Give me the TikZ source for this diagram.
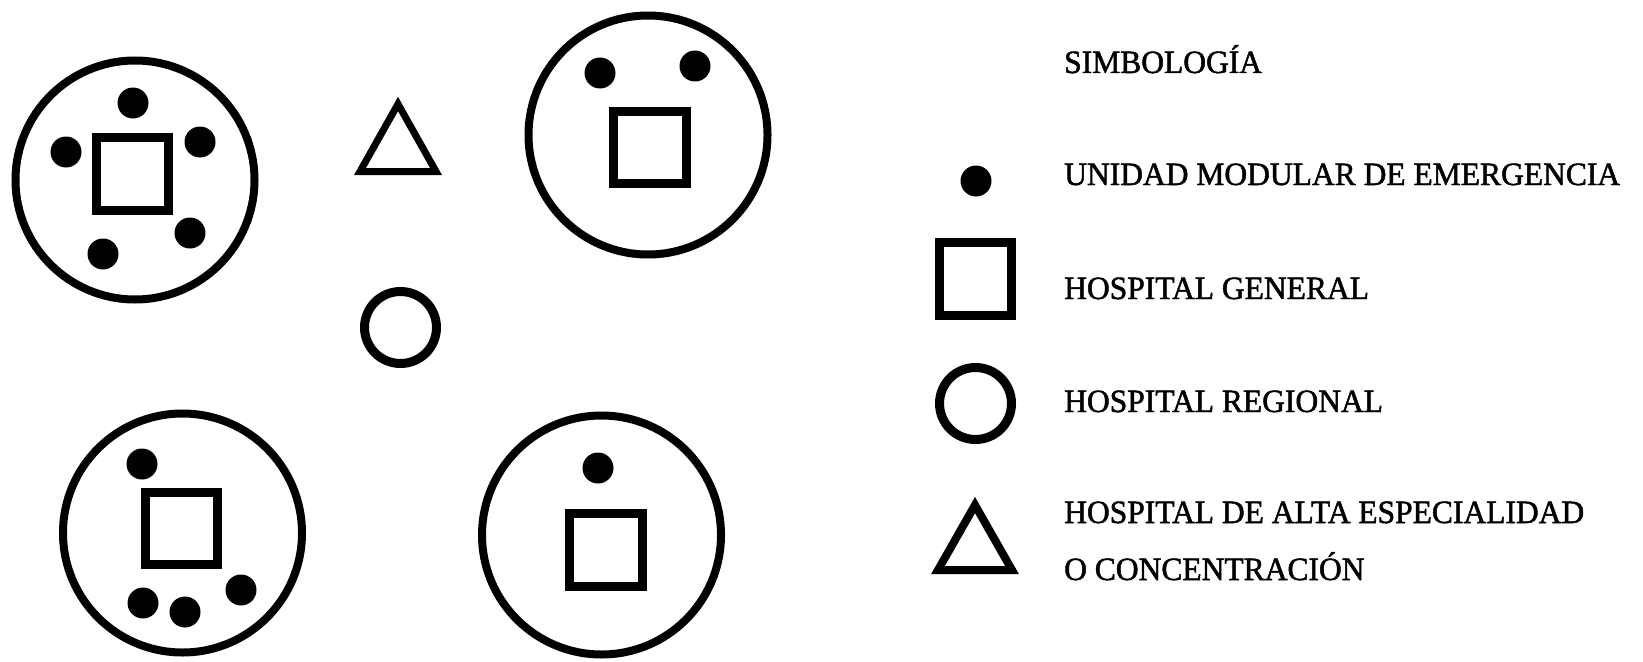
\documentclass[tikz,border=0pt]{standalone}
\usepackage{fontspec}
\setmainfont{Liberation Serif}[FakeStretch=0.97,FakeBold=1.5]
\begin{document}
\begin{tikzpicture}[x=1pt,y=-1pt,
  bigring/.style={circle,draw,line width=8pt,minimum size=239pt,inner sep=0pt},
  smallring/.style={circle,draw,line width=9pt,minimum size=72pt,inner sep=0pt},
  hgsq/.style={rectangle,draw,line width=9pt,minimum size=72.5pt,inner sep=0pt},
  umdot/.style={circle,fill,minimum size=31pt,inner sep=0pt},
  lbl/.style={anchor=base west,inner sep=0pt,font=\fontsize{32.5}{36}\selectfont},
  tri/.style={draw,line width=8pt,line join=miter}]
\useasboundingbox (0,0) rectangle (1643,661);
% top-left cluster
\node[bigring] (c1) at (135,180) {};
\node[hgsq] (s1) at (132.5,174) {};
\node[umdot] (d11) at (133,103) {};
\node[umdot] (d12) at (66,152) {};
\node[umdot] (d13) at (200,142) {};
\node[umdot] (d14) at (190,233) {};
\node[umdot] (d15) at (103,254) {};
% top-right cluster
\node[bigring] (c2) at (648,135) {};
\node[hgsq] (s2) at (650,147.5) {};
\node[umdot] (d21) at (600,73) {};
\node[umdot] (d22) at (695,66) {};
% bottom-left cluster
\node[bigring] (c3) at (182.5,533) {};
\node[hgsq] (s3) at (181.5,528.5) {};
\node[umdot] (d31) at (142,464) {};
\node[umdot] (d32) at (143,603) {};
\node[umdot] (d33) at (185,612) {};
\node[umdot] (d34) at (241,590) {};
% bottom-right cluster
\node[bigring] (c4) at (601.5,535) {};
\node[hgsq] (s4) at (606,550) {};
\node[umdot] (d41) at (598,468) {};
% standalone triangle and regional circle
\draw[line width=7pt,line join=miter] (398,104) -- (436,171.5) -- (360,171.5) -- cycle;
\node[smallring] (r1) at (400.5,327.5) {};
% legend
\node[lbl] (t0) at (1064,73) {SIMBOLOGÍA};
\node[umdot] (ld) at (976,181) {};
\node[lbl] (t1) at (1064,185) {UNIDAD MODULAR DE EMERGENCIA};
\node[hgsq] (ls) at (975.5,279) {};
\node[lbl] (t2) at (1064,299) {HOSPITAL GENERAL};
\node[smallring] (lc) at (975.5,403.5) {};
\node[lbl] (t3) at (1064,412) {HOSPITAL REGIONAL};
\draw[tri] (975,505) -- (1012,570) -- (938,570) -- cycle;
\node[lbl] (t4) at (1064,523) {HOSPITAL DE ALTA ESPECIALIDAD};
\node[lbl] (t5) at (1064,580) {O CONCENTRACIÓN};
\end{tikzpicture}
\end{document}
